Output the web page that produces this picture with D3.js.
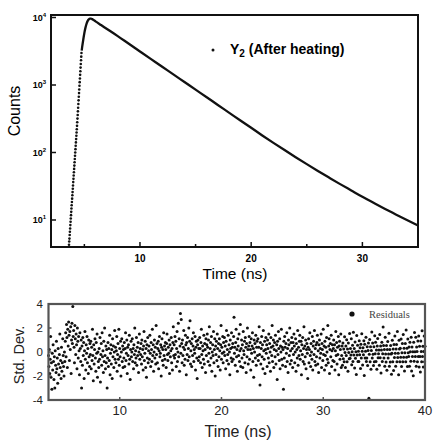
<!DOCTYPE html>
<html>
<head>
<meta charset="utf-8">
<script src="https://cdn.jsdelivr.net/npm/d3@7"></script>
<style>
  body { margin: 0; background: #fff; }
  svg { display: block; font-family: "Liberation Sans", Arial, sans-serif; }
</style>
</head>
<body>
<svg id="chart" width="433" height="443"></svg>
<script>
// ---- data ----
// rising edge, one dot per channel
const riseStart = 3.62;
const channelWidth = 0.02;
const riseCounts = [4.3, 4.8, 5.3, 6.0, 6.7, 7.5, 8.4, 9.4, 10.5, 11.8, 13.2, 14.8, 16.5, 18.5, 20.7, 23.2,
    25.9, 29.0, 32.5, 36.4, 40.7, 45.6, 51.1, 57.1, 64.0, 71.6, 80.2, 89.7, 100, 112, 126, 141, 158, 177,
    198, 221, 248, 281, 318, 360, 407, 461, 522, 592, 670, 759, 859, 973, 1102, 1247, 1413, 1600, 1811,
    2051, 2323, 2630, 2979];

// peak and decay (dots merge into a solid trace)
const decayTimes = [4.76, 4.8, 4.9, 5.0, 5.1, 5.2, 5.3, 5.4, 5.5, 5.6, 5.7, 5.8, 6.0, 6.5, 7,
    8, 9, 10, 11, 12, 13, 14, 15, 16, 17, 18, 19, 20,
    21, 22, 23, 24, 25, 26, 27, 28, 29, 30, 31, 32, 33, 34, 35];
const decayCounts = [3240, 3630, 4680, 5890, 7080, 8130, 8910, 9380, 9600, 9600, 9460, 9250, 8770, 7730, 6820,
    5300, 4075, 3140, 2420, 1866, 1436, 1107, 853, 658, 506, 390, 300, 232,
    179, 139, 108.6, 85.2, 67.2, 53.3, 42.5, 34.0, 27.4, 22.1, 18.0, 14.7, 12.1, 9.97, 8.27];

// weighted residuals, evenly spaced from 3 to 40 ns
const residualStart = 3;
const residualEnd = 40;
const residuals = [
    -0.3, -1.2, 0.2, -1.8, -0.6, 1.3, -2.1, -0.9, -3.1, -0.1, -1.5, 0.6, -0.8, -2.3, -0.4, -3.0, 0.1, -1.1, -1.7, 0.9,
    -1.4, -0.5, -2.6, 0.3, -1.0, -1.9, -0.2, 1.5, -1.3, -0.7, -2.2, 0.4, -1.6, -0.9, 1.1, -0.3, -1.2, -2.0, 0.0, -0.8,
    0.9, 1.6, -0.4, 2.3, 1.2, -1.3, 1.9, 0.5, 2.5, 1.4, -0.7, 1.7, 0.2, 2.1, -1.8, 1.0, 2.4, 0.7, 3.8, 1.3,
    1.8, 0.4, -0.9, 2.2, 1.1, -0.2, 1.5, 0.6, -1.4, 2.0, 0.9, -0.5, 1.3, 0.1, -1.9, 1.6, 0.3, -0.8, 1.0, -3.0,
    0.5, -1.1, 1.2, -0.3, 0.8, -2.2, 0.1, 1.7, -0.6, -1.5, 0.6, -0.1, 1.3, -0.9, 0.3, -1.8, 1.0, -0.4, -1.2, 0.7,
    -0.2, 0.9, -1.4, 0.4, -0.7, 1.9, -0.3, -2.4, 0.6, -1.0, 0.2, 1.1, -0.5, -1.6, 0.8, -0.1, 1.5, -2.1, 0.0, -0.8,
    -1.3, 0.3, -0.6, 1.2, -2.5, -0.2, 0.7, -1.1, 1.6, -0.4, 0.1, -1.7, 0.9, -0.8, 2.0, -0.3, -1.4, 0.5, -0.9, 0.2,
    -3.0, -0.5, 0.8, -1.2, 0.3, -0.7, 1.4, -1.9, -0.1, 0.6, -1.0, 0.2, -2.2, 1.1, -0.4, 0.5, -1.3, 0.0, 1.8, -0.6,
    0.4, -0.9, 0.1, 1.3, -1.6, -0.2, 0.7, -0.6, 1.9, -1.1, 0.3, -0.4, 0.9, -2.0, 0.0, 1.1, -0.8, 0.5, -1.3, 0.2,
    -0.5, 0.8, -1.2, 0.3, 1.6, -0.7, -0.1, 1.0, -1.8, 0.4, -0.3, 0.6, -1.0, 1.4, -0.6, -2.3, 0.2, 0.9, -0.4, 0.0,
    1.1, -0.8, 0.3, -1.4, 0.6, -0.2, 2.0, -0.9, 0.1, -0.5, 1.2, -1.1, 0.4, -0.3, 0.8, -1.7, 0.0, 1.5, -0.6, 0.3,
    -0.2, 0.7, -1.0, 1.0, -0.4, 0.2, -1.5, 0.5, 1.7, -0.7, -0.1, 0.9, -1.3, 0.3, -2.1, 0.6, -0.5, 1.2, -0.9, 0.1,
    0.5, -0.6, 1.4, -0.1, -1.2, 0.8, 0.2, -0.8, 1.9, -0.3, 0.6, -1.6, 0.0, 1.0, -0.5, 0.4, -1.0, 2.2, -0.2, 0.7,
    -0.9, 0.3, 0.9, -1.4, 0.1, 1.3, -0.4, -0.1, 0.6, -2.0, 0.4, 1.1, -0.7, 0.2, -1.1, 1.6, -0.3, 0.5, -0.6, 0.8,
    0.2, -1.3, 0.7, 1.5, -0.2, -0.7, 0.4, -0.1, 1.0, -1.8, 0.6, -0.4, 0.1, 1.2, -0.9, 0.3, -1.5, 0.8, 2.1, -0.3,
    0.6, -0.5, 1.3, -0.2, 0.9, -1.2, 0.3, 1.7, -0.8, 0.0, 2.4, -0.4, 1.1, -1.6, 0.5, 3.2, -0.1, 2.7, 0.7, -0.9,
    1.0, -0.3, 0.4, 1.8, -1.1, 0.2, -0.6, 1.4, 0.6, -1.9, 0.8, -0.2, 1.2, -0.7, 0.3, 2.0, -0.4, 0.9, 2.6, -1.0,
    0.1, 0.7, -1.2, 1.1, -0.3, 0.5, 1.6, -0.8, 0.2, -0.1, 1.3, -1.5, 0.4, 0.9, -0.5, -2.2, 0.6, 1.0, -0.7, 0.3,
    -0.4, 1.2, 0.3, -0.9, 0.8, 1.9, -0.2, -1.3, 0.5, 0.1, -0.6, 1.4, -1.0, 0.7, 0.2, -1.7, 1.1, -0.3, 0.6, 1.5,
    0.4, -0.8, 1.0, -0.1, 2.1, -1.1, 0.3, 0.8, -0.5, 1.3, -1.6, 0.0, 0.6, -0.3, 1.7, -0.9, 0.2, 1.1, -2.0, 0.5,
    -0.2, 0.9, -0.7, 1.5, 0.3, -1.2, 0.7, -0.4, 1.1, 0.1, -1.5, 0.6, 2.2, -0.6, 0.4, -0.1, 1.3, -0.9, 0.8, 0.0,
    1.2, -0.3, 0.5, -1.4, 0.9, 1.8, -0.7, 0.2, -0.2, 1.4, -1.0, 0.6, 0.0, -1.9, 1.0, 0.3, -0.5, 1.6, -0.8, 0.4,
    0.7, -0.6, 1.3, 2.9, -0.1, 0.4, -1.1, 0.8, 1.9, -0.4, 0.2, -1.6, 1.1, 0.5, -0.3, 1.5, -0.8, 0.1, 2.3, -1.2,
    0.3, 1.0, -0.5, 0.6, -1.3, 1.7, 0.1, -0.2, 0.9, -0.9, 1.2, 0.4, -1.7, 0.7, -0.4, 2.0, 0.2, -1.0, 0.5, 1.3,
    -0.6, 0.8, 0.2, -1.5, 1.1, -0.1, 0.5, 1.6, -0.8, 0.3, -2.1, 1.0, 0.0, 0.7, -0.5, 1.4, -1.1, 0.4, 0.9, -0.3,
    1.1, -0.7, 0.4, 2.1, -0.2, -2.75, 0.8, -1.0, 0.3, 1.3, -0.4, 0.6, -1.4, 1.8, 0.1, -0.6, 0.9, -1.8, 0.2, 1.2,
    -0.1, 0.6, -1.2, 1.0, 0.3, -0.5, 1.5, -0.9, 0.7, 0.0, -1.6, 1.2, 0.4, -0.3, 2.2, -0.8, 0.5, 1.0, -1.3, 0.2,
    0.8, -0.4, 1.4, -1.0, 0.1, 0.6, -2.3, 0.9, -0.2, 1.7, 0.3, -0.7, 1.1, -1.4, 0.5, 0.0, 1.9, -0.6, 0.4, -1.1,
    0.2, -3.1, 0.9, -0.5, 1.3, 0.4, -1.2, 0.7, -0.1, 1.6, -0.8, 0.3, -1.7, 1.0, 0.6, -0.3, 2.0, -1.0, 0.1, 0.8,
    -0.7, 1.2, 0.3, -1.3, 0.8, -0.2, 1.5, 0.5, -0.9, 0.0, 1.1, -1.6, 0.7, 0.2, -0.5, 1.8, -1.1, 0.4, -0.3, 0.9,
    1.4, -0.6, 0.1, 0.9, -1.9, 0.6, -0.2, 1.2, -0.8, 0.3, 2.1, -1.0, 0.5, -0.4, 1.0, -1.4, 0.2, 0.7, -0.1, -2.2,
    0.4, 1.1, -0.9, 0.2, 1.6, -0.3, -1.2, 0.7, 0.0, -0.6, 1.3, -1.5, 0.5, 0.9, -0.2, 1.8, -0.8, 0.3, -1.1, 0.6,
    -0.4, 0.8, 1.4, -1.0, 0.1, -1.7, 0.6, 1.0, -0.5, 0.3, -0.1, 1.5, -1.3, 0.7, 0.2, -0.7, 1.9, -0.2, 0.5, -1.5,
    0.9, -0.3, 0.4, -1.1, 1.2, 0.0, -0.6, 2.2, -0.9, 0.5, 1.1, -1.8, 0.2, 0.7, -0.4, 1.4, -1.2, 0.1, 0.6, -0.7,
    0.3, 1.0, -0.8, 0.6, -1.5, 0.1, 1.7, -0.3, 0.8, -1.0, 0.4, -0.2, 1.3, -1.9, 0.5, 0.9, -0.6, 0.2, 1.5, -1.3,
    -0.3, 0.5, -1.1, 0.76, -0.56, 0.24, -0.82, 1.28, -0.04, -1.3, 0.5, -0.3, 1.02, -0.82, 0.24, -1.6, 0.76, -0.04, -0.56, 1.54,
    -0.52, 0.29, -0.25, 1.1, -1.06, 0.02, 0.56, -0.79, 1.64, -0.25, 0.29, -1.33, 0.83, -0.52, 0.02, -1.87, 1.37, -0.25, 0.56, -0.79,
    0.07, -0.8, 0.94, -0.22, 0.36, -1.38, 0.65, -0.51, 1.52, 0.07, -1.09, 0.36, -0.22, 0.94, -1.96, 0.65, -0.51, 0.07, 1.23, -0.8,
    -0.5, 0.43, -1.12, 0.12, 0.74, -3.85, -0.19, 1.05, -0.81, 0.43, -1.43, 0.12, 1.67, -0.5, 0.74, -0.19, -1.12, 0.43, -0.81, 1.36,
    -0.15, 0.81, -0.79, 0.17, -1.43, 0.49, 1.13, -0.47, -0.15, 0.17, -1.11, 1.45, -0.47, 0.49, -1.75, 0.17, 0.81, -0.79, -0.15, 2.09,
    0.54, -0.5, 0.2, -1.18, 1.22, -0.16, -0.84, 0.54, -1.52, 0.2, 0.88, -0.5, -0.16, 1.56, -1.18, 0.2, -0.84, 0.54, -0.16, -1.86,
    -0.1, 0.98, -0.82, 0.26, -1.54, 0.62, -0.46, 1.34, -0.1, -1.18, 0.26, 0.62, -0.82, 1.7, -0.46, -0.1, -1.9, 0.98, 0.26, -0.82,
    0.32, -0.44, 1.08, -1.2, -0.06, 0.7, -0.82, 1.46, -0.44, 0.32, -1.58, -0.06, 0.7, -0.82, 1.84, -0.44, 0.32, -1.2, 1.08, -0.06,
    -0.38, 0.42, -1.18, 0.82, 0.02, -0.78, 1.22, -1.58, 0.42, -0.38, 0.02, -1.98, 0.82, -0.78, 1.62, 0.02, -0.38, 1.22, -1.18, 0.42,
    0.05, -0.81, 0.91, -0.38, 1.34, -1.24, 0.48, -0.38, -1.67, 0.91, 0.05, -0.81, 1.77, -0.38, 0.48, -1.24, 0.05, 1.34, -0.81, 0.48
];

// ticks
const topXTicks = [10, 20, 30];
const topXMinor = [5, 15, 25];
const topYTicks = [10, 100, 1000, 10000];
const bottomXTicks = [10, 20, 30, 40];
const bottomYTicks = [-4, -2, 0, 2, 4];

const legendTop = "Y";
const legendTopSub = "2";
const legendTopRest = " (After heating)";
const legendBottom = "Residuals";

const svg = d3.select("#chart");

// ---------- top panel: decay curve ----------
const upper = { left: 51, right: 418, top: 15, bottom: 247 };

const xTop = d3.scaleLinear().domain([2, 35]).range([upper.left, upper.right]);
const yTop = d3.scaleLog().domain([3.98, 10890]).range([upper.bottom, upper.top]);

const topG = svg.append("g");

// dots of the rising edge
const risePoints = riseCounts.map((c, i) => ({ t: riseStart + i * channelWidth, c }));
topG.selectAll(".rise")
    .data(risePoints)
    .enter().append("circle")
    .attr("class", "rise")
    .attr("cx", d => xTop(d.t))
    .attr("cy", d => yTop(d.c))
    .attr("r", 1.3)
    .style("fill", "#111");

// dense part of the decay
const decayPoints = decayTimes.map((t, i) => ({ t, c: decayCounts[i] }));
const decayLine = d3.line()
    .x(d => xTop(d.t))
    .y(d => yTop(d.c))
    .curve(d3.curveMonotoneX);
topG.append("path")
    .datum(decayPoints)
    .attr("d", decayLine)
    .style("fill", "none")
    .style("stroke", "#111")
    .style("stroke-width", 2.3)
    .style("stroke-linejoin", "round");

// frame
topG.append("rect")
    .attr("x", upper.left).attr("y", upper.top)
    .attr("width", upper.right - upper.left).attr("height", upper.bottom - upper.top)
    .style("fill", "none").style("stroke", "#111").style("stroke-width", 2);

// x ticks (inside)
topG.selectAll(".xt")
    .data(topXTicks)
    .enter().append("line")
    .attr("x1", d => xTop(d)).attr("x2", d => xTop(d))
    .attr("y1", upper.bottom).attr("y2", upper.bottom - 5)
    .style("stroke", "#111").style("stroke-width", 1.5);
topG.selectAll(".xm")
    .data(topXMinor)
    .enter().append("line")
    .attr("x1", d => xTop(d)).attr("x2", d => xTop(d))
    .attr("y1", upper.bottom).attr("y2", upper.bottom - 3)
    .style("stroke", "#111").style("stroke-width", 1.5);
topG.selectAll(".xl")
    .data(topXTicks)
    .enter().append("text")
    .attr("x", d => xTop(d)).attr("y", 262)
    .attr("text-anchor", "middle")
    .style("font-size", "10px").style("font-weight", "bold")
    .text(d => d);

// y ticks (inside) with 10^n labels
topG.selectAll(".yt")
    .data(topYTicks)
    .enter().append("line")
    .attr("x1", upper.left).attr("x2", upper.left + 5)
    .attr("y1", d => yTop(d)).attr("y2", d => yTop(d))
    .style("stroke", "#111").style("stroke-width", 1.5);
const yLab = topG.selectAll(".yl")
    .data(topYTicks)
    .enter().append("text")
    .attr("x", 46).attr("y", d => yTop(d) + 3.5)
    .attr("text-anchor", "end")
    .style("font-weight", "bold");
yLab.append("tspan").style("font-size", "9px").text("10");
yLab.append("tspan").attr("dy", -4).style("font-size", "6px").text(d => Math.round(Math.log10(d)));

topG.append("text")
    .attr("x", 235).attr("y", 279)
    .attr("text-anchor", "middle")
    .style("font-size", "15.5px")
    .text("Time (ns)");
topG.append("text")
    .attr("transform", "translate(20,111) rotate(-90)")
    .attr("text-anchor", "middle")
    .style("font-size", "16px")
    .text("Counts");

// legend
topG.append("circle").attr("cx", 213).attr("cy", 50).attr("r", 1.5).style("fill", "#111");
const lt = topG.append("text")
    .attr("x", 230).attr("y", 54)
    .style("font-size", "14px").style("font-weight", "bold");
lt.append("tspan").text(legendTop);
lt.append("tspan").attr("dy", 3).style("font-size", "10px").text(legendTopSub);
lt.append("tspan").attr("dy", -3).text(legendTopRest);

// ---------- bottom panel: residuals ----------
const lower = { left: 48.5, right: 425, top: 304, bottom: 400 };

const xBot = d3.scaleLinear().domain([3, 40]).range([lower.left, lower.right]);
const yBot = d3.scaleLinear().domain([-4, 4]).range([lower.bottom, lower.top]);

const botG = svg.append("g");
const step = (residualEnd - residualStart) / (residuals.length - 1);

botG.selectAll(".res")
    .data(residuals)
    .enter().append("circle")
    .attr("class", "res")
    .attr("cx", (d, i) => xBot(residualStart + i * step))
    .attr("cy", d => yBot(d))
    .attr("r", 1.5)
    .style("fill", "#111");

botG.append("rect")
    .attr("x", lower.left).attr("y", lower.top)
    .attr("width", lower.right - lower.left).attr("height", lower.bottom - lower.top)
    .style("fill", "none").style("stroke", "#555").style("stroke-width", 2.2);

botG.selectAll(".bxt")
    .data(bottomXTicks)
    .enter().append("line")
    .attr("x1", d => xBot(d)).attr("x2", d => xBot(d))
    .attr("y1", lower.bottom).attr("y2", lower.bottom - 3)
    .style("stroke", "#555").style("stroke-width", 1.5);
botG.selectAll(".bxl")
    .data(bottomXTicks)
    .enter().append("text")
    .attr("x", d => xBot(d)).attr("y", 415)
    .attr("text-anchor", "middle")
    .style("font-size", "13px").style("fill", "#222")
    .text(d => d);

botG.selectAll(".byt")
    .data(bottomYTicks)
    .enter().append("line")
    .attr("x1", lower.left).attr("x2", lower.left + 3)
    .attr("y1", d => yBot(d)).attr("y2", d => yBot(d))
    .style("stroke", "#555").style("stroke-width", 1.5);
botG.selectAll(".byl")
    .data(bottomYTicks)
    .enter().append("text")
    .attr("x", 43).attr("y", d => yBot(d) + 4)
    .attr("text-anchor", "end")
    .style("font-size", "11.5px").style("fill", "#222")
    .text(d => d);

botG.append("text")
    .attr("x", 238).attr("y", 437)
    .attr("text-anchor", "middle")
    .style("font-size", "16px").style("fill", "#222")
    .text("Time (ns)");
botG.append("text")
    .attr("transform", "translate(24,355) rotate(-90)")
    .attr("text-anchor", "middle")
    .style("font-size", "14.5px").style("fill", "#222")
    .text("Std. Dev.");

// legend
botG.append("circle").attr("cx", 352).attr("cy", 314).attr("r", 2.6).style("fill", "#111");
botG.append("text")
    .attr("x", 369).attr("y", 317.5)
    .style("font-family", "'Liberation Serif', 'Times New Roman', serif")
    .style("font-size", "10.5px").style("fill", "#444")
    .text(legendBottom);
</script>
</body>
</html>
